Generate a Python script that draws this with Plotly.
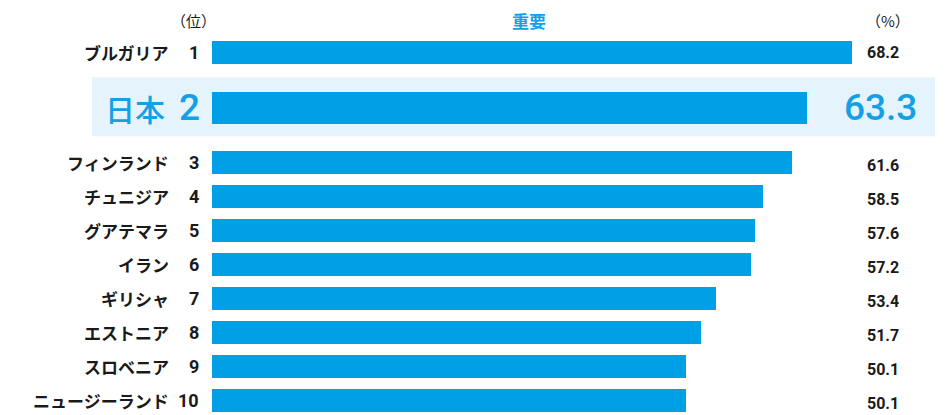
import plotly.graph_objects as go

# ---- data ----
countries = ["ブルガリア", "日本", "フィンランド", "チュニジア", "グアテマラ",
             "イラン", "ギリシャ", "エストニア", "スロベニア", "ニュージーランド"]
ranks = [1, 2, 3, 4, 5, 6, 7, 8, 9, 10]
values = [68.2, 63.3, 61.6, 58.5, 57.6, 57.2, 53.4, 51.7, 50.1, 50.1]
highlight = "日本"
header_rank = "（位）"
header_title = "重要"
header_unit = "（%）"

# ---- layout constants ----
OFF = 8                      # page body margin in the browser
W, H = 950 - OFF, 415 - OFF  # figure size that fits the window
PX_PER_UNIT = 9.2
ZERO_PX = 225                # where value 0 sits on the axis (page px)
PLOT_L_PX = 212              # left edge of plot area, bars start here (page px)
STEP_PX = 34.0
BLUE = "#00A0E6"
TEXT_BLUE = "#14A0E4"
BAND = "#E5F3FD"
DARK = "#1a1a1a"

ML = PLOT_L_PX - OFF
PW = W - ML
x_lo = (PLOT_L_PX - ZERO_PX) / PX_PER_UNIT   # axis minimum (slightly below 0)
x_hi = x_lo + PW / PX_PER_UNIT
y_span = H / STEP_PX

# row positions (in row units), extra gap around the highlighted row
positions = []
pos = (52.5 - OFF) / STEP_PX
for i, c in enumerate(countries):
    if i > 0:
        pos += 1.0
        if c == highlight or countries[i - 1] == highlight:
            pos += 0.62
    positions.append(pos)

widths = [0.94 if c == highlight else 0.68 for c in countries]

# bars are drawn from the axis minimum up to each value
fig = go.Figure()
fig.add_trace(go.Bar(
    x=[v - x_lo for v in values], base=x_lo, y=positions, orientation="h", width=widths,
    marker=dict(color=BLUE, line=dict(width=0)),
    hoverinfo="skip", showlegend=False,
))

def px(xp):
    return (xp - PLOT_L_PX) / PW

shapes = []
annotations = []
for c, r, v, p in zip(countries, ranks, values, positions):
    if c == highlight:
        shapes.append(dict(type="rect", xref="paper", yref="y", layer="below",
                           x0=px(92), x1=px(935), y0=p - 0.89, y1=p + 0.84,
                           fillcolor=BAND, line=dict(width=0)))
        annotations.append(dict(x=px(167), y=p, xref="paper", yref="y", text=c,
                                showarrow=False, xanchor="right", yanchor="middle",
                                font=dict(family="Noto Sans CJK JP", size=30, color=TEXT_BLUE, weight=500)))
        annotations.append(dict(x=px(202), y=p, xref="paper", yref="y", text=str(r),
                                showarrow=False, xanchor="right", yanchor="middle",
                                font=dict(family="Roboto", size=37, color=TEXT_BLUE, weight=500)))
        annotations.append(dict(x=px(919), y=p, xref="paper", yref="y", text=f"{v:.1f}",
                                showarrow=False, xanchor="right", yanchor="middle",
                                font=dict(family="Roboto", size=37, color=TEXT_BLUE, weight=500)))
    else:
        annotations.append(dict(x=px(171), y=p, xref="paper", yref="y", text=c,
                                showarrow=False, xanchor="right", yanchor="middle",
                                font=dict(family="Noto Sans CJK JP", size=17, color=DARK, weight=700)))
        annotations.append(dict(x=px(201), y=p, xref="paper", yref="y", text=str(r),
                                showarrow=False, xanchor="right", yanchor="middle",
                                font=dict(family="Roboto", size=18, color=DARK, weight=700)))
        dy = 0.0 if r == 1 else 0.09
        annotations.append(dict(x=px(865), y=p + dy, xref="paper", yref="y", text=f"{v:.1f}",
                                showarrow=False, xanchor="left", yanchor="middle",
                                font=dict(family="Roboto", size=16, color=DARK, weight=700)))

header_y = 1 - (20 - OFF) / H
annotations.append(dict(x=px(193), y=header_y, xref="paper", yref="paper", text=header_rank,
                        showarrow=False, xanchor="center", yanchor="middle",
                        font=dict(family="Noto Sans CJK JP", size=15, color=DARK)))
annotations.append(dict(x=px(529), y=header_y, xref="paper", yref="paper", text=header_title,
                        showarrow=False, xanchor="center", yanchor="middle",
                        font=dict(family="Noto Sans CJK JP", size=17, color=TEXT_BLUE, weight=700)))
annotations.append(dict(x=px(888), y=header_y, xref="paper", yref="paper", text=header_unit,
                        showarrow=False, xanchor="center", yanchor="middle",
                        font=dict(family="Noto Sans CJK JP", size=15, color=DARK)))

fig.update_layout(
    width=W, height=H,
    margin=dict(l=ML, r=0, t=0, b=0),
    paper_bgcolor="white", plot_bgcolor="rgba(0,0,0,0)",
    xaxis=dict(range=[x_lo, x_hi], visible=False, fixedrange=True),
    yaxis=dict(range=[y_span, 0], visible=False, fixedrange=True),
    shapes=shapes, annotations=annotations,
    bargap=0,
)

fig.write_html("out.html", config={"displayModeBar": False})
